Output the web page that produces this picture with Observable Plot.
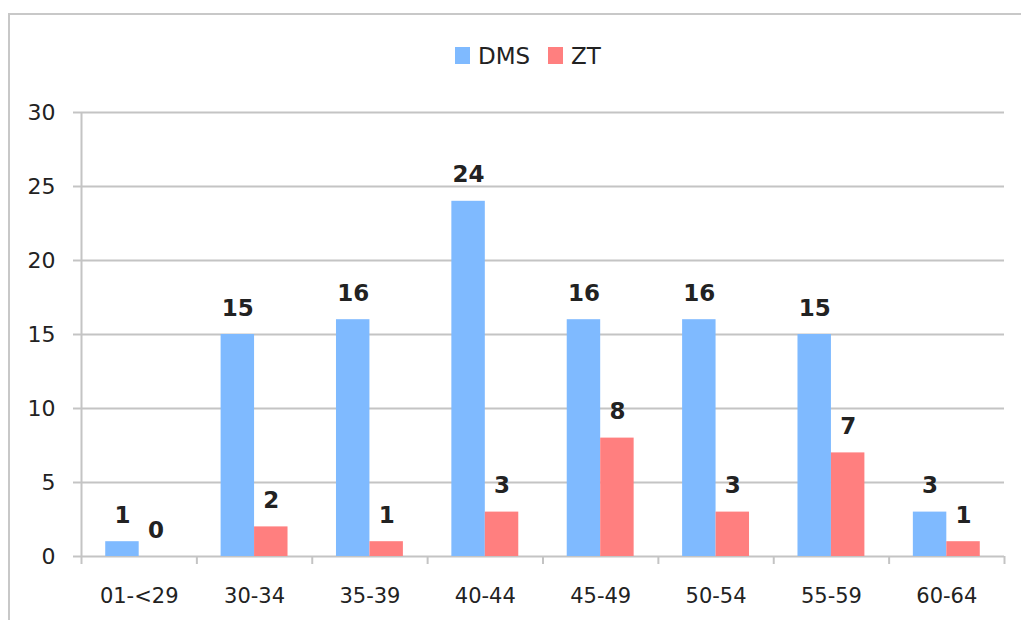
<!DOCTYPE html>
<html>
<head>
<meta charset="utf-8">
<script src="https://cdn.jsdelivr.net/npm/d3@7"></script>
<script src="https://cdn.jsdelivr.net/npm/@observablehq/plot@0.6"></script>
<style>
  html, body { margin: 0; padding: 0; background: #fff; }
  #wrap { position: relative; width: 1021px; height: 620px; overflow: hidden; font-family: "DejaVu Sans", sans-serif; }
  #border { position: absolute; left: 8px; top: 13px; right: -10px; bottom: -10px; border-top: 2px solid #c8c8c8; border-left: 2px solid #c8c8c8; }
  #legend { position: relative; height: 80px; }
  .item { position: absolute; top: 47px; display: flex; align-items: center; height: 17px; font-size: 23px; color: #222; }
  .sw { width: 15px; height: 17px; margin-right: 8px; }
  #chart { position: relative; }
</style>
</head>
<body>
<div id="wrap">
  <div id="border"></div>
  <div id="legend"></div>
  <div id="chart"></div>
</div>
<script>
const categories = ["01-<29", "30-34", "35-39", "40-44", "45-49", "50-54", "55-59", "60-64"];
const dms = [1, 15, 16, 24, 16, 16, 15, 3];
const zt = [0, 2, 1, 3, 8, 3, 7, 1];
const series = ["DMS", "ZT"];
const colors = ["#7fbaff", "#ff7f7f"];
const yTicks = [0, 5, 10, 15, 20, 25, 30];

const data = [];
categories.forEach((c, i) => {
  data.push({cat: c, i, series: "DMS", value: dms[i], off0: 0.21, off1: 0.5});
  data.push({cat: c, i, series: "ZT", value: zt[i], off0: 0.5, off1: 0.79});
});

// legend
const legend = document.getElementById("legend");
const legendLeft = [455, 548];
series.forEach((s, k) => {
  const it = document.createElement("div");
  it.className = "item";
  it.style.left = legendLeft[k] + "px";
  it.innerHTML = `<span class="sw" style="background:${colors[k]}"></span><span>${s}</span>`;
  legend.appendChild(it);
});

const grid = "#c4c4c4";
const chart = Plot.plot({
  width: 1021,
  height: 540,
  marginTop: 32,
  marginBottom: 64,
  marginLeft: 81,
  marginRight: 17,
  style: {fontFamily: "DejaVu Sans, sans-serif", fontSize: "21px", color: "#222", background: "transparent", overflow: "visible"},
  x: {type: "linear", domain: [0, categories.length], axis: null, label: null},
  y: {domain: [0, 30], axis: null, label: null},
  color: {domain: series, range: colors},
  marks: [
    Plot.gridY(yTicks, {stroke: grid, strokeOpacity: 1, strokeWidth: 2}),
    Plot.rectY(data, {x1: d => d.i + d.off0, x2: d => d.i + d.off1, y1: 0, y2: "value", fill: "series"}),
    Plot.ruleX([0], {y1: 0, y2: 30, stroke: grid, strokeWidth: 2}),
    Plot.axisY(yTicks, {label: null, tickSize: 8, tickPadding: 18, stroke: grid, strokeWidth: 2, fill: "#222", fontSize: 22, tickFormat: d => String(d)}),
    Plot.axisX(d3.range(categories.length + 1), {label: null, tickSize: 8, stroke: grid, strokeWidth: 2, tickFormat: () => ""}),
    Plot.axisX(d3.range(categories.length).map(i => i + 0.5), {label: null, tickSize: 0, tickPadding: 32, fill: "#222", fontSize: 21, tickFormat: d => categories[Math.floor(d)]}),
    Plot.text(data, {x: d => d.i + (d.off0 + d.off1) / 2, y: "value", text: d => String(d.value), lineAnchor: "bottom", dy: -19, fontWeight: "bold", fontSize: 23, fill: "#222"})
  ]
});
document.getElementById("chart").appendChild(chart);
</script>
</body>
</html>
